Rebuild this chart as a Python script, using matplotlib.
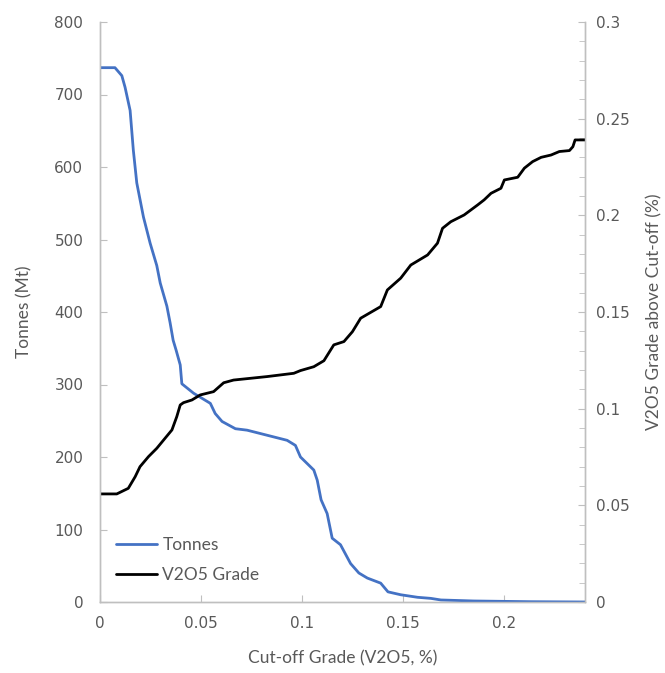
import matplotlib
matplotlib.use("Agg")
import matplotlib.pyplot as plt
from matplotlib.ticker import MultipleLocator, FuncFormatter

# ---- data ----
tonnes_x = [0, 0.0074, 0.0108, 0.0124, 0.0149, 0.0165, 0.0182, 0.0215, 0.0248, 0.0281,
            0.0298, 0.0331, 0.0347, 0.0362, 0.0377, 0.0397, 0.0405, 0.0463, 0.0546, 0.057,
            0.0604, 0.067, 0.0728, 0.0827, 0.0926, 0.0967, 0.0992, 0.1058, 0.1075, 0.1094,
            0.1124, 0.1149, 0.119, 0.124, 0.1281, 0.1323, 0.1389, 0.1425, 0.1488, 0.1571,
            0.1637, 0.1687, 0.185, 0.2133, 0.2406]
tonnes_y = [737, 737, 726, 710, 678, 623, 578, 531, 495, 464,
            440, 408, 385, 361, 347, 327, 301, 288, 274, 260,
            249, 239, 237, 230, 223, 216, 200, 182, 168, 141,
            122, 88, 79, 53, 40, 33, 26, 14, 10, 6.5,
            5, 2.8, 1.4, 0.4, 0]

grade_x = [0, 0.0083, 0.014, 0.0174, 0.0198, 0.024, 0.0281, 0.0322, 0.0356, 0.038,
           0.0397, 0.0413, 0.0455, 0.0496, 0.0562, 0.0612, 0.0661, 0.0744, 0.0827, 0.0959,
           0.0992, 0.1058, 0.1108, 0.1157, 0.1207, 0.1249, 0.129, 0.1389, 0.1422, 0.1488,
           0.1538, 0.1621, 0.167, 0.1695, 0.1736, 0.1802, 0.1869, 0.1901, 0.1935, 0.1984,
           0.2001, 0.2067, 0.21, 0.2141, 0.2183, 0.2232, 0.2273, 0.2323, 0.234, 0.2351,
           0.2406]
grade_y = [0.0559, 0.0559, 0.0588, 0.0648, 0.07, 0.0752, 0.0795, 0.0847, 0.089, 0.0959,
           0.1019, 0.1031, 0.1045, 0.1071, 0.1088, 0.1134, 0.1148, 0.1157, 0.1166, 0.1183,
           0.1197, 0.1217, 0.1248, 0.133, 0.1347, 0.1398, 0.1468, 0.1528, 0.1614, 0.1675,
           0.1743, 0.1795, 0.1856, 0.1933, 0.1967, 0.2002, 0.2054, 0.208, 0.2114, 0.214,
           0.2183, 0.2197, 0.2244, 0.2278, 0.23, 0.2312, 0.233, 0.2335, 0.2355, 0.239,
           0.239]

x_ticks = [0, 0.05, 0.1, 0.15, 0.2]
left_ticks = [0, 100, 200, 300, 400, 500, 600, 700, 800]
right_ticks = [0, 0.05, 0.1, 0.15, 0.2, 0.25, 0.3]

# ---- styling ----
TXT = "#595959"
SPINE = "#BFBFBF"
BLUE = "#4472C4"
TICKFONT = "DejaVu Sans"
LABFONT = "Lato"

fig = plt.figure(figsize=(6.65, 6.73), dpi=100)
ax = fig.add_axes([100/665, 1-602/673, 485/665, 580/673])
ax2 = ax.twinx()

l1, = ax.plot(tonnes_x, tonnes_y, color=BLUE, lw=2.0, label="Tonnes", solid_capstyle="round",
              solid_joinstyle="round", zorder=3)
l2, = ax2.plot(grade_x, grade_y, color="black", lw=2.0, label="V2O5 Grade",
               solid_capstyle="round", solid_joinstyle="round")

ax.set_xlim(0, 0.24)
ax.set_ylim(0, 800)
ax2.set_ylim(0, 0.3)

ax.set_xticks(x_ticks)
ax.set_yticks(left_ticks)
ax2.set_yticks(right_ticks)
ax2.yaxis.set_minor_locator(MultipleLocator(0.01))

fmt = FuncFormatter(lambda v, p: ("%g" % v))
ax.xaxis.set_major_formatter(fmt)
ax2.yaxis.set_major_formatter(fmt)

for a in (ax, ax2):
    a.spines["top"].set_visible(False)
    for s in ("left", "right", "bottom"):
        a.spines[s].set_color(SPINE)
        a.spines[s].set_linewidth(1.0)

ax.tick_params(axis="both", which="both", direction="in", color=SPINE, length=5,
               labelcolor=TXT, labelsize=11)
ax.tick_params(axis="x", pad=10)
ax.tick_params(axis="y", pad=12)
ax2.tick_params(axis="y", which="major", direction="in", color=SPINE, length=5,
                labelcolor=TXT, labelsize=11, pad=8)
ax2.tick_params(axis="y", which="minor", direction="in", color=SPINE, length=4)

for lab in ax.get_xticklabels() + ax.get_yticklabels() + ax2.get_yticklabels():
    lab.set_family(TICKFONT)

ax.set_ylabel("Tonnes (Mt)", fontsize=12.5, color=TXT, family=LABFONT, labelpad=16)
fig.text(654/665, 1-312/673, "V2O5 Grade above Cut-off (%)", rotation=90,
         ha="center", va="center", fontsize=12.5, color=TXT, family=LABFONT)
ax.set_xlabel("Cut-off Grade (V2O5, %)", fontsize=12.5, color=TXT, family=LABFONT, labelpad=14)

leg = ax.legend(handles=[l1, l2], loc="lower left", bbox_to_anchor=(0.0, 0.006),
                frameon=False, handlelength=2.4, handletextpad=0.3,
                labelspacing=0.8, prop={"family": LABFONT, "size": 12.5})
for t in leg.get_texts():
    t.set_color(TXT)

fig.savefig("out.png", dpi=100)
